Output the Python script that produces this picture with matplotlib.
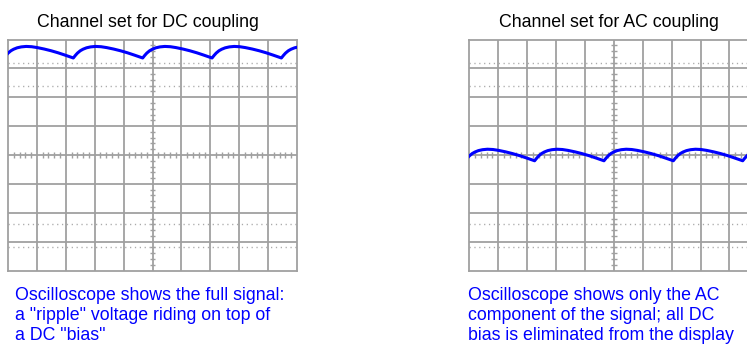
import matplotlib
matplotlib.use('Agg')
import matplotlib.pyplot as plt
import numpy as np

plt.rcParams['font.family'] = ['Liberation Sans', 'DejaVu Sans']

# one ripple cycle: fraction of period from the cusp,
# and level normalised so trough = -1, crest = +1
cycle_t = [0.00, 0.03, 0.06, 0.10, 0.14, 0.19, 0.25, 0.32, 0.40, 0.48, 0.58, 0.68, 0.78, 0.88, 1.00]
cycle_v = [-1.0, -0.55, -0.15, 0.25, 0.52, 0.76, 0.92, 1.0, 0.95, 0.80, 0.55, 0.25, -0.10, -0.50, -1.0]

period_div = 2.4       # divisions per ripple cycle
first_cusp = 2.26      # division where the first cusp sits
ripple_div = 0.2       # half peak-to-peak, divisions
dc_level = 3.56        # trace centre with DC coupling
ac_level = 0.0         # trace centre with AC coupling

titles = ['Channel set for DC coupling', 'Channel set for AC coupling']
captions = [
    ['Oscilloscope shows the full signal:', 'a "ripple" voltage riding on top of', 'a DC "bias"'],
    ['Oscilloscope shows only the AC', 'component of the signal; all DC', 'bias is eliminated from the display'],
]
levels = [dc_level, ac_level]

W, H = 747, 345
fig = plt.figure(figsize=(W / 100, H / 100), dpi=100)

grid_col = '#a0a0a0'
blue = '#0000ff'


def trace(level):
    xs, ys = [], []
    for k in range(-1, 5):
        start = 0 if k == -1 else 1
        for t, v in zip(cycle_t[start:], cycle_v[start:]):
            xs.append(first_cusp + (k + t) * period_div)
            ys.append(level + ripple_div * v)
    return np.array(xs), np.array(ys)


def screen(left_px, level):
    ax = fig.add_axes([left_px / W, (H - 270.5) / H, 289 / W, 231 / H])
    ax.set_xlim(0, 10)
    ax.set_ylim(-4, 4)
    ax.set_xticks([])
    ax.set_yticks([])
    for s in ax.spines.values():
        s.set_color(grid_col)
        s.set_linewidth(1.3)

    # major graticule
    ax.vlines(range(1, 10), -4, 4, color=grid_col, lw=1.3, zorder=1)
    ax.hlines(range(-3, 4), 0, 10, color=grid_col, lw=1.3, zorder=1)

    # dotted rise-time lines
    for yy in (-3.2, -2.4, 2.4, 3.2):
        ax.plot([0, 10], [yy, yy], color='#aaaaaa', lw=1.0,
                linestyle=(0, (0.9, 2.6)), zorder=1)

    # minor ticks on the centre lines
    minor = [i * 0.2 for i in range(-25, 51) if i % 5 != 0]
    mx = [m for m in minor if 0 < m < 10]
    my = [m for m in minor if -4 < m < 4]
    ax.vlines(mx, -0.1, 0.1, color=grid_col, lw=1.0, zorder=1)
    ax.hlines(my, 4.9, 5.1, color=grid_col, lw=1.0, zorder=1)

    x, y = trace(level)
    ax.plot(x, y, color=blue, lw=2.2, zorder=3, solid_joinstyle='round')
    return ax


screen(8, dc_level)
screen(469.3, ac_level)

# titles
fig.text(148 / W, 1 - 27.3 / H, titles[0], ha='center', va='baseline',
         fontsize=12.8, color='black')
fig.text(608.8 / W, 1 - 27.3 / H, titles[1], ha='center', va='baseline',
         fontsize=12.8, color='black')

# captions
for x0, lines in zip([15, 468.3], captions):
    for i, line in enumerate(lines):
        fig.text(x0 / W, 1 - (300.5 + 19.8 * i) / H, line, ha='left', va='baseline',
                 fontsize=12.8, color=blue)

fig.savefig('out.png', dpi=100, facecolor='white')
